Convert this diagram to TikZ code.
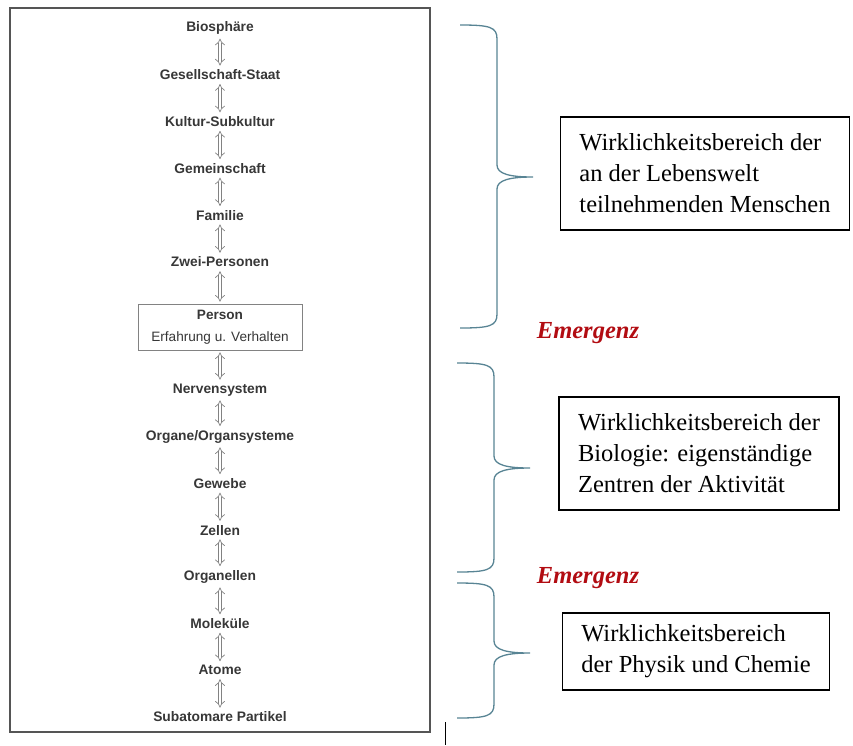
\documentclass[tikz,border=0pt]{standalone}
\usepackage{fontspec}
\setmainfont{Liberation Serif}
\setsansfont{Liberation Sans}
\usetikzlibrary{
  arrows.meta,
  positioning
}
\definecolor{levelgray}{RGB}{55,55,55}
\definecolor{arrowgray}{RGB}{130,130,130}
\definecolor{framegray}{RGB}{85,85,85}
\definecolor{bracegray}{RGB}{88,132,148}
\definecolor{emergred}{RGB}{178,12,18}

\begin{document}
\begin{tikzpicture}[x=1pt, y=-1pt,
  level/.style={font=\fontsize{13.8}{16}\selectfont\sffamily\bfseries, text=levelgray,
                inner sep=2pt},
  person/.style={draw=arrowgray, line width=0.7pt, minimum width=164pt, minimum height=46pt,
                 align=center, text=levelgray, font=\fontsize{13.6}{22}\selectfont\sffamily},
  updown/.style={{Implies}-{Implies}, draw=arrowgray, double=white, double distance=2.8pt,
                 line width=0.7pt, shorten <=2pt, shorten >=2pt},
  realm/.style={draw, line width=1.3pt, align=left, inner xsep=19pt,
                font=\fontsize{24.5}{31}\selectfont},
  emerg/.style={font=\fontsize{24.5}{30}\selectfont\bfseries\itshape, text=emergred},
  brace/.style={draw=bracegray, line width=1.3pt}
]
  \useasboundingbox (0,0) rectangle (853,745);

  % Frame
  \draw[framegray, line width=1.2pt] (10,8) rectangle (430,732);
  \draw[line width=0.8pt] (445,722) -- (445,745);

  % Levels above the person
  \foreach \i/\t in {1/Biosphäre, 2/Gesellschaft-Staat, 3/Kultur-Subkultur,
                     4/Gemeinschaft, 5/Familie, 6/Zwei-Personen} {
    \pgfmathsetmacro{\y}{28+(\i-1)*46.8}
    \node[level] (t\i) at (220,\y) {\t};
  }

  % Person
  \node[person] (pers) at (220,327) {\textbf{Person}\\Erfahrung u. Verhalten};

  % Levels below the person
  \foreach \i/\t in {1/Nervensystem, 2/{Organe/Organsysteme}, 3/Gewebe, 4/Zellen,
                     5/Organellen, 6/Moleküle, 7/Atome, 8/Subatomare Partikel} {
    \pgfmathsetmacro{\y}{390+(\i-1)*46.7}
    \node[level] (b\i) at (220,\y) {\t};
  }

  % Arrows
  \foreach \i [count=\j from 2] in {1,...,5} {
    \draw[updown] (t\i) -- (t\j);
  }
  \draw[updown] (t6) -- (pers);
  \draw[updown] (pers) -- (b1);
  \foreach \i [count=\j from 2] in {1,...,7} {
    \draw[updown] (b\i) -- (b\j);
  }

  % Braces
  \foreach \xl/\yt/\ym/\yb in {460/25/177/328, 457/363/468/572, 457/583/653/718} {
    \draw[brace] (\xl,\yt) .. controls (\xl+30,\yt) and (\xl+37,\yt+2) .. (\xl+37,\yt+14)
      -- (\xl+37,\ym-12) .. controls (\xl+37,\ym-3) and (\xl+50,\ym) .. (\xl+73,\ym)
      .. controls (\xl+50,\ym) and (\xl+37,\ym+3) .. (\xl+37,\ym+12)
      -- (\xl+37,\yb-14) .. controls (\xl+37,\yb-2) and (\xl+30,\yb) .. (\xl,\yb);
  }

  % Realms
  \node[realm, minimum height=113pt] (lebenswelt) at (705,173.5)
    {Wirklichkeitsbereich der\\an der Lebenswelt\\teilnehmenden Menschen};
  \node[realm, minimum height=113pt] (biologie) at (699,453.5)
    {Wirklichkeitsbereich der\\Biologie: eigenständige\\Zentren der Aktivität};
  \node[realm, minimum height=77pt] (physik) at (696,651.5)
    {Wirklichkeitsbereich\\der Physik und Chemie};

  % Emergence labels
  \node[emerg] (em1) at (588,333) {Emergenz};
  \node[emerg] (em2) at (588,578) {Emergenz};
\end{tikzpicture}
\end{document}
